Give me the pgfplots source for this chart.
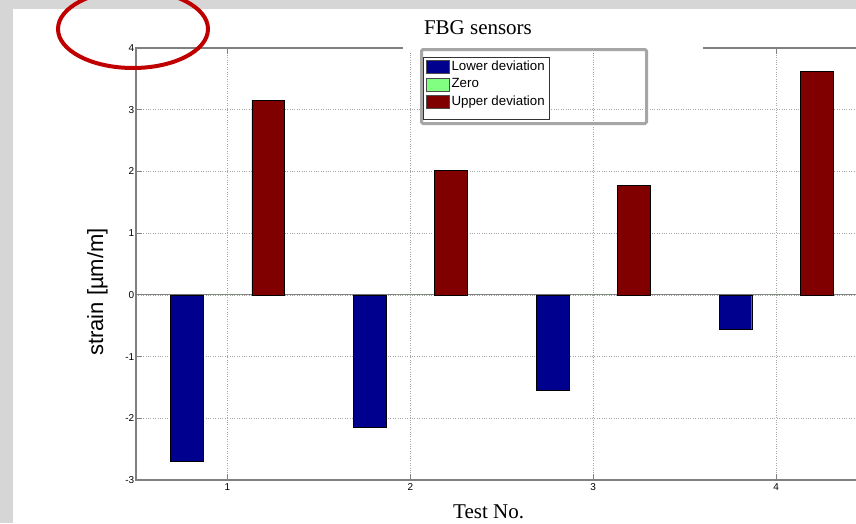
\documentclass[border=0pt]{standalone}
\usepackage{fontspec}
\setmainfont{Liberation Serif}
\newfontfamily\arial{Liberation Sans}
\usepackage{pgfplots}
\pgfplotsset{compat=1.18}
\definecolor{lowblue}{RGB}{0,0,143}
\definecolor{zerogreen}{RGB}{128,255,128}
\definecolor{uppred}{RGB}{128,0,0}
\definecolor{slidegray}{RGB}{214,214,214}
\definecolor{boxgray}{RGB}{166,166,166}
\definecolor{axgray}{RGB}{128,128,128}
\definecolor{circred}{RGB}{192,0,0}
\pgfplotsset{mylegimg/.style={legend image code/.code={\draw[##1,draw=black!70,line width=0.4pt] (0pt,-6.5pt) rectangle (23pt,6.5pt);}}}
\begin{document}
\begin{tikzpicture}[x=1pt,y=1pt]
\clip (0,0) rectangle (856,523);
\fill[slidegray] (0,0) rectangle (856,523);
\fill[white] (13,0) rectangle (856,514);
\begin{axis}[
  at={(136pt,43pt)}, anchor=south west,
  scale only axis, width=731.5pt, height=432pt,
  xmin=0.5, xmax=4.5, ymin=-3, ymax=4,
  xtick={1,2,3,4}, xticklabels={1,2,3,4},
  ytick={-3,-2,-1,0,1,2,3,4}, yticklabels={-3,-2,-1,0,1,2,3,4},
  tick align=inside, major tick length=6pt,
  every tick/.style={axgray, line width=0.8pt},
  axis line style={axgray, line width=1.2pt},
  grid=major, major grid style={black!35, dotted, line width=0.6pt},
  ticklabel style={font=\arial\fontsize{10}{11}\selectfont, text=black},
  xticklabel style={inner sep=1pt, yshift=-2pt},
  yticklabel style={inner sep=1.5pt},
  title={FBG sensors},
  title style={at={(axis description cs:0.4675,1.0185)}, anchor=base, font=\fontsize{21}{24}\selectfont, inner sep=0pt},
  xlabel={Test No.},
  xlabel style={at={(axis description cs:0.482,-0.088)}, anchor=base, font=\fontsize{21}{24}\selectfont, inner sep=0pt},
  ylabel={strain [µm/m]},
  ylabel style={at={(axis description cs:-0.0451,0.435)}, anchor=base, font=\arial\fontsize{22}{24}\selectfont, inner sep=0pt},
  clip=false,
  legend cell align=left,
  legend style={at={(axis description cs:0.3964,0.9722)}, anchor=north west, draw=none, fill=none, inner sep=0pt,
    font=\arial\fontsize{13.3}{14}\selectfont, row sep=4pt, column sep=2pt,
    nodes={inner sep=0pt, text height=10pt, text depth=3pt}},
]
% white patch over the top axis line behind the title
\fill[white] (rel axis cs:0.365,0.9884) rectangle (rel axis cs:0.7751,1.0764);
% zero baseline
\addplot[axgray, line width=1pt, forget plot] coordinates {(0.5,0) (4.5,0)};
\addplot[ybar, bar width=0.178, bar shift=-0.222, fill=lowblue, draw=black, line width=0.4pt, mylegimg]
  coordinates {(1,-2.69) (2,-2.14) (3,-1.54) (4,-0.555)};
\addlegendentry{Lower deviation}
\addplot[ybar, bar width=0.178, bar shift=0, fill=zerogreen, draw=none, mylegimg]
  coordinates {(1,0) (2,0) (3,0) (4,0)};
\addlegendentry{Zero}
\addplot[ybar, bar width=0.178, bar shift=0.222, fill=uppred, draw=black, line width=0.4pt, mylegimg]
  coordinates {(1,3.15) (2,2.02) (3,1.78) (4,3.62)};
\addlegendentry{Upper deviation}
% gray annotation box around the legend
\draw[boxgray, line width=3pt, rounded corners=1.5pt] (rel axis cs:0.3903,0.8252) rectangle (rel axis cs:0.6979,0.9965);
% legend frame
\draw[black!80, line width=0.5pt, fill=white] (rel axis cs:0.3923,0.8356) rectangle (rel axis cs:0.5646,0.9792);
\end{axis}
\draw[circred, line width=4pt] (133,494) ellipse [x radius=75pt, y radius=39pt];
\end{tikzpicture}
\end{document}
